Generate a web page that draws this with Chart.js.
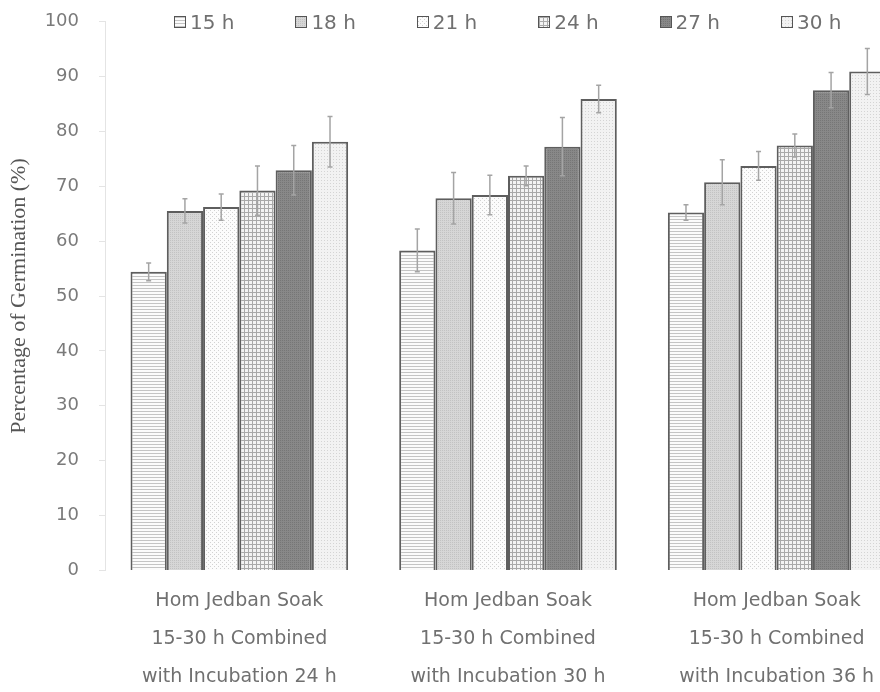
<!DOCTYPE html>
<html>
<head>
<meta charset="utf-8">
<script src="https://cdn.jsdelivr.net/npm/chart.js@4"></script>
<style>
  html, body { margin: 0; padding: 0; background: #fff; overflow: hidden; }
  #wrap { position: relative; width: 920px; height: 697px; }
  #legend { position: absolute; top: 12px; left: 174px; display: flex; font-family: "DejaVu Sans", sans-serif; font-size: 20px; color: #707070; }
  #legend .item { width: 121.4px; display: flex; align-items: center; height: 20px; }
  #legend .box { width: 10px; height: 10px; border: 1px solid #555; margin-right: 4px; }
</style>
</head>
<body>
<div id="wrap">
  <canvas id="chart" width="920" height="697"></canvas>
  <div id="legend"></div>
</div>
<script>
// groups on the x axis
const categories = [
    ['Hom Jedban Soak', '15-30 h Combined', 'with Incubation 24 h'],
    ['Hom Jedban Soak', '15-30 h Combined', 'with Incubation 30 h'],
    ['Hom Jedban Soak', '15-30 h Combined', 'with Incubation 36 h']
];
const soakLabels = ['15 h', '18 h', '21 h', '24 h', '27 h', '30 h'];

// germination % per soak time (one value per group)
const soak15 = [54.4, 58.3, 65.2];
const soak18 = [65.5, 67.8, 70.7];
const soak21 = [66.2, 68.4, 73.7];
const soak24 = [69.2, 71.9, 77.4];
const soak27 = [72.9, 77.2, 87.5];
const soak30 = [78.1, 85.9, 90.9];

// error bars (+/-)
const err15 = [1.6, 3.9, 1.4];
const err18 = [2.2, 4.7, 4.1];
const err21 = [2.4, 3.6, 2.6];
const err24 = [4.5, 1.8, 2.1];
const err27 = [4.5, 5.3, 3.2];
const err30 = [4.6, 2.5, 4.2];

const canvas = document.getElementById('chart');
const ctx = canvas.getContext('2d');

// small tiles for the hatched fills
function makeTile(size, bg, paint) {
    const c = document.createElement('canvas');
    c.width = size;
    c.height = size;
    const x = c.getContext('2d');
    x.fillStyle = bg;
    x.fillRect(0, 0, size, size);
    paint(x);
    return c;
}

const tiles = [
    makeTile(3, '#fbfbfb', x => { x.fillStyle = '#c4c4c4'; x.fillRect(0, 0, 3, 1); }),
    makeTile(2, '#d6d6d6', x => { x.fillStyle = '#c2c2c2'; x.fillRect(0, 0, 1, 1); }),
    makeTile(4, '#fcfcfc', x => { x.fillStyle = '#d2d2d2'; x.fillRect(0, 0, 1, 1); x.fillRect(2, 2, 1, 1); }),
    makeTile(4, '#f3f3f3', x => { x.fillStyle = '#a9a9a9'; x.fillRect(0, 0, 4, 1); x.fillRect(0, 0, 1, 4); }),
    makeTile(2, '#888888', x => { x.fillStyle = '#767676'; x.fillRect(0, 0, 1, 1); }),
    makeTile(3, '#f2f2f2', x => { x.fillStyle = '#d4d4d4'; x.fillRect(0, 0, 1, 1); })
];
const fills = tiles.map(t => ctx.createPattern(t, 'repeat'));

const seriesValues = [soak15, soak18, soak21, soak24, soak27, soak30];
const seriesErrors = [err15, err18, err21, err24, err27, err30];

const datasets = soakLabels.map((label, i) => ({
    label: label,
    data: seriesValues[i],
    errors: seriesErrors[i],
    backgroundColor: fills[i],
    borderColor: '#5e5e5e',
    borderWidth: 2,
    barPercentage: 1.0,
    categoryPercentage: 0.81
}));

const errorBars = {
    id: 'errorBars',
    afterDatasetsDraw(chart) {
        const c = chart.ctx;
        const y = chart.scales.y;
        chart.data.datasets.forEach((ds, i) => {
            chart.getDatasetMeta(i).data.forEach((bar, j) => {
                const v = ds.data[j];
                const e = ds.errors[j];
                const top = y.getPixelForValue(v + e);
                const bot = y.getPixelForValue(v - e);
                c.save();
                c.strokeStyle = '#a4a4a4';
                c.lineWidth = 1.5;
                c.beginPath();
                c.moveTo(bar.x, top);
                c.lineTo(bar.x, bot);
                c.moveTo(bar.x - 2.5, top);
                c.lineTo(bar.x + 2.5, top);
                c.moveTo(bar.x - 2.5, bot);
                c.lineTo(bar.x + 2.5, bot);
                c.stroke();
                c.restore();
            });
        });
    }
};

new Chart(ctx, {
    type: 'bar',
    data: {
        labels: categories,
        datasets: datasets
    },
    options: {
        responsive: false,
        animation: false,
        layout: {
            autoPadding: false,
            padding: { top: 21.5, right: 9, bottom: 0, left: 0 }
        },
        plugins: {
            legend: { display: false },
            tooltip: { enabled: false }
        },
        scales: {
            x: {
                grid: { display: false, drawTicks: false },
                border: { display: false },
                ticks: {
                    color: '#707070',
                    padding: 12,
                    font: { family: 'DejaVu Sans', size: 19, lineHeight: 2 }
                },
                afterFit: scale => { scale.height = 126.5; }
            },
            y: {
                min: 0,
                max: 100,
                ticks: {
                    stepSize: 10,
                    color: '#7a7a7a',
                    padding: 20,
                    font: { family: 'DejaVu Sans', size: 18 }
                },
                grid: {
                    drawOnChartArea: false,
                    drawTicks: true,
                    tickLength: 6,
                    color: '#e4e4e4'
                },
                border: { color: '#e4e4e4' },
                title: {
                    display: true,
                    text: 'Percentage of Germination (%)',
                    color: '#555',
                    padding: { top: 6, bottom: 12 },
                    font: { family: 'Liberation Serif', size: 22 }
                },
                afterFit: scale => {
                    scale.width = 105;
                    scale.paddingTop = 0;
                    scale.paddingBottom = 0;
                }
            }
        }
    },
    plugins: [errorBars]
});

// legend drawn as html so it can sit level with the top tick
const legend = document.getElementById('legend');
soakLabels.forEach((label, i) => {
    const item = document.createElement('div');
    item.className = 'item';
    const box = document.createElement('span');
    box.className = 'box';
    box.style.backgroundImage = 'url(' + tiles[i].toDataURL() + ')';
    const text = document.createElement('span');
    text.textContent = label;
    item.appendChild(box);
    item.appendChild(text);
    legend.appendChild(item);
});
</script>
</body>
</html>
